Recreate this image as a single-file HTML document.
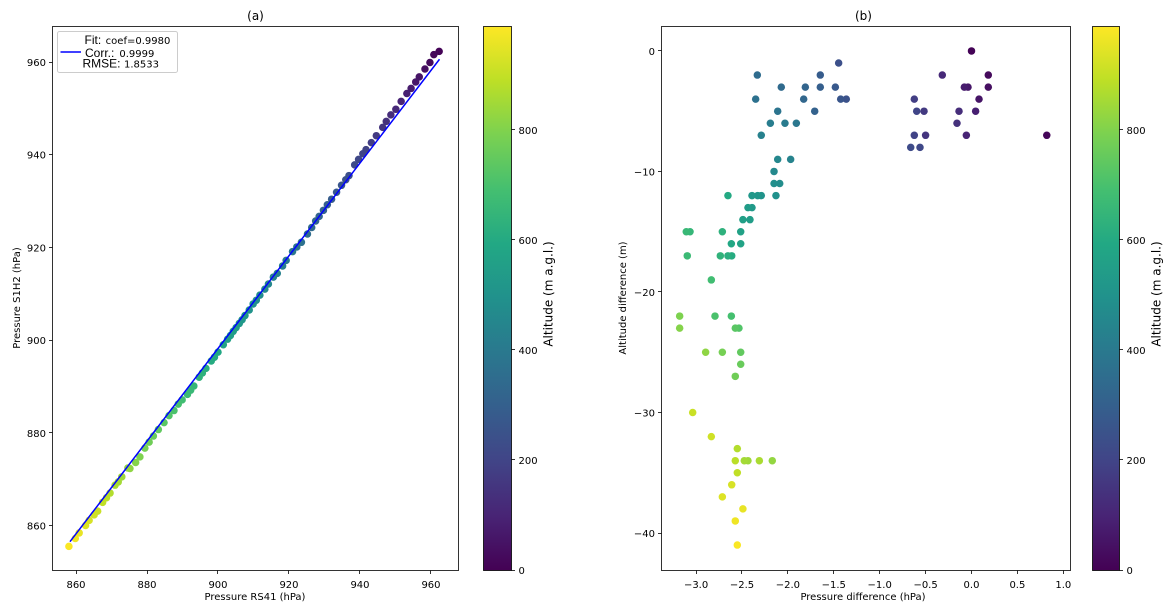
<!DOCTYPE html>
<html>
<head>
<meta charset="utf-8">
<title>Pressure and altitude comparison</title>
<style>
html,body{margin:0;padding:0;background:#fff;}
svg{display:block;}
text{font-family:"DejaVu Sans","Liberation Sans",sans-serif;fill:#000;}
</style>
</head>
<body>
<svg id="chart" xmlns="http://www.w3.org/2000/svg" width="1174" height="614" viewBox="0 0 1174 614">
  <defs>
    <linearGradient id="viridis" x1="0" y1="1" x2="0" y2="0"></linearGradient>
  </defs>
</svg>
<script>
// ---- data ----
const altitude = [5,15,25,40,55,62,75,86,100,115,128,140,150,167,180,194,203,214,225,240,248,260,273,286,297,308,319,328,339,350,366,378,390,407,416,430,441,454,463,477,486,495,505,516,524,531,540,548,555,563,574,588,598,606,620,630,638,652,661,669,683,694,705,718,732,747,760,771,783,796,807,822,828,844,853,862,875,885,895,908,918,931,940,957,968,985];
const pressureRS41 = [962.3,960.8,959.7,958.3,956.7,955.7,954.4,953.2,951.6,950.1,948.7,947.4,946.4,944.6,943.2,941.7,940.8,939.6,938.5,936.9,936.0,934.8,933.4,932.0,930.8,929.7,928.5,927.5,926.4,925.2,923.5,922.2,921.0,919.2,918.2,916.7,915.6,914.2,913.2,911.8,910.8,909.9,908.8,907.6,906.8,906.0,905.1,904.3,903.5,902.7,901.5,900.0,899.0,898.1,896.6,895.6,894.7,893.2,892.3,891.4,889.9,888.8,887.6,886.2,884.8,883.2,881.8,880.6,879.4,878.0,876.8,875.2,874.6,872.9,871.9,871.0,869.6,868.6,867.5,866.1,865.1,863.7,862.7,860.9,859.8,858.0];
const pressureS1H2 = [962.3,961.6,959.9,958.5,956.8,955.7,954.3,953.2,951.5,949.8,948.6,947.2,945.9,944.1,942.6,941.1,940.2,939.0,937.8,935.5,934.6,933.4,931.9,930.4,929.2,928.0,926.7,925.7,924.3,922.9,921.1,920.1,919.1,917.2,916.0,914.4,913.6,912.1,911.0,909.7,908.6,907.8,906.5,905.3,904.4,903.6,902.7,901.9,901.0,900.2,899.0,897.4,896.3,895.5,893.9,892.9,892.0,890.1,889.2,888.3,887.1,886.2,884.8,883.7,882.2,880.7,879.3,878.0,876.7,874.8,873.6,872.3,872.4,870.5,869.4,868.7,867.0,866.0,865.0,863.1,862.3,861.1,860.0,858.4,857.2,855.5];
const pressureDiff = [0,0.82,0.183,0.183,0.082,-0.038,-0.078,0.045,-0.056,-0.318,-0.136,-0.158,-0.5,-0.517,-0.623,-0.623,-0.597,-0.561,-0.662,-1.447,-1.364,-1.425,-1.483,-1.647,-1.647,-1.708,-1.81,-1.828,-2.072,-2.333,-2.351,-2.111,-1.908,-2.032,-2.191,-2.29,-1.97,-2.111,-2.151,-2.089,-2.151,-2.13,-2.29,-2.329,-2.391,-2.391,-2.435,-2.413,-2.49,-2.514,-2.514,-2.616,-2.653,-2.612,-2.653,-2.714,-2.736,-3.066,-3.107,-3.096,-2.834,-2.616,-2.794,-2.533,-2.573,-2.514,-2.514,-2.573,-2.714,-3.179,-3.179,-2.896,-2.17,-2.435,-2.475,-2.311,-2.551,-2.573,-2.551,-3.037,-2.834,-2.612,-2.714,-2.49,-2.573,-2.551];
const altitudeDiff = [0,-7,-2,-3,-4,-3,-3,-5,-7,-2,-5,-6,-7,-5,-4,-7,-5,-8,-8,-1,-4,-4,-3,-2,-3,-5,-3,-4,-3,-2,-4,-5,-6,-6,-6,-7,-9,-9,-10,-11,-11,-12,-12,-12,-12,-13,-13,-14,-14,-15,-16,-16,-12,-17,-17,-15,-17,-15,-15,-17,-19,-22,-22,-23,-23,-25,-26,-27,-25,-22,-23,-25,-34,-34,-34,-34,-33,-34,-35,-30,-32,-36,-37,-38,-39,-41];
const fitX = [858.3,962.4];
const fitY = [856.5,960.6];
const xTicksA = [860,880,900,920,940,960];
const yTicksA = [860,880,900,920,940,960];
const xTicksB = [-3,-2.5,-2,-1.5,-1,-0.5,0,0.5,1];
const yTicksB = [0,-10,-20,-30,-40];
const colorbarTicks = [0,200,400,600,800];
const viridisStops = ["#440154","#482475","#414487","#355f8d","#2a788e","#21918c","#22a884","#44bf70","#7ad151","#bddf26","#fde725"];

// ---- scales ----
function linear(domain, range){
  return v => range[0] + (v - domain[0]) / (domain[1] - domain[0]) * (range[1] - range[0]);
}
const boxA = {l:52.5, r:458.5, t:26.5, b:570.5};
const boxB = {l:661.5, r:1070.5, t:26.5, b:570.5};
const xA = linear([853.52,967.75],[53,458.5]);
const yA = linear([850.4,967.77],[570,26]);
const xB = linear([-3.379,1.073],[661.3,1070]);
const yB = linear([-43.07,2.07],[570,26]);
const altMax = 989;
const yC = linear([0,altMax],[570,26]);

function hexRgb(h){return [parseInt(h.slice(1,3),16),parseInt(h.slice(3,5),16),parseInt(h.slice(5,7),16)];}
function viridis(v){
  const t = Math.max(0,Math.min(1,v/altMax))*(viridisStops.length-1);
  const i = Math.min(Math.floor(t),viridisStops.length-2);
  const a = hexRgb(viridisStops[i]), b = hexRgb(viridisStops[i+1]), f = t-i;
  return "rgb("+a.map((c,k)=>Math.round(c+(b[k]-c)*f)).join(",")+")";
}
function snap(v){return Math.floor(v)+0.5;}
const svg = document.getElementById('chart');
function el(tag, attrs, text){
  const e = document.createElementNS("http://www.w3.org/2000/svg", tag);
  for (const k in attrs) e.setAttribute(k, attrs[k]);
  if (text !== undefined) e.textContent = text;
  svg.appendChild(e);
  return e;
}
function fmt(v, d){
  return (v < 0 ? "\u2212" : "") + Math.abs(v).toFixed(d);
}
function axisFrame(box, name){
  const f = el('rect',{x:box.l,y:box.t,width:box.r-box.l,height:box.b-box.t,fill:'none',stroke:'#000','stroke-width':0.8});
  
  
}
function xTicks(ticks, scale, box, d, name){
  ticks.forEach(v=>{
    const x = scale(v);
    const t = el('line',{x1:snap(x),x2:snap(x),y1:box.b,y2:box.b+3.5,stroke:'#000','stroke-width':0.8});
    
    
    const l = el('text',{x:x,y:588,'font-size':10,'text-anchor':'middle'},fmt(v,d));
    
    
  });
}
function yTicks(ticks, scale, box, name){
  ticks.forEach(v=>{
    const y = scale(v);
    const t = el('line',{x1:box.l-3.5,x2:box.l,y1:snap(y),y2:snap(y),stroke:'#000','stroke-width':0.8});
    
    
    const l = el('text',{x:box.l-6.5,y:y+4,'font-size':10,'text-anchor':'end'},fmt(v,0));
    
    
  });
}
function colorbar(x0, x1, name){
  const r = el('rect',{x:x0,y:26.5,width:x1-x0,height:544,fill:'url(#viridis)',stroke:'#000','stroke-width':0.8});
  
  
  colorbarTicks.forEach(v=>{
    const y = yC(v);
    const t = el('line',{x1:x1,x2:x1+3.5,y1:snap(y),y2:snap(y),stroke:'#000','stroke-width':0.8});
    
    
    const l = el('text',{x:x1+7,y:y+4,'font-size':10},String(v));
    
    
  });
  const cx = x1+41;
  const c = el('text',{x:cx,y:294,'font-size':12,'text-anchor':'middle',transform:'rotate(-90 '+cx+' 294)'},'Altitude (m a.g.l.)');
  
  
}

// gradient
const grad = svg.querySelector('#viridis');
viridisStops.forEach((c,i)=>{
  const s = document.createElementNS("http://www.w3.org/2000/svg","stop");
  s.setAttribute('offset', (i/(viridisStops.length-1)*100)+'%');
  s.setAttribute('stop-color', c);
  grad.appendChild(s);
});

// background
const bg = el('rect',{x:0,y:0,width:1174,height:614,fill:'#fff'});



// panel a points
pressureRS41.forEach((v,i)=>{
  const p = el('circle',{cx:xA(v),cy:yA(pressureS1H2[i]),r:3.75,fill:viridis(altitude[i])});
  
  
});
// fit line
const fit = el('line',{x1:xA(fitX[0]),y1:yA(fitY[0]),x2:xA(fitX[1]),y2:yA(fitY[1]),stroke:'#0000ff','stroke-width':1.5});



axisFrame(boxA, 'panel-a-frame');
xTicks(xTicksA, xA, boxA, 0, 'panel-a-x-axis');
yTicks(yTicksA, yA, boxA, 'panel-a-y-axis');

const tA = el('text',{x:255.5,y:20,'font-size':12,'text-anchor':'middle'},'(a)');


const xlA = el('text',{x:255,y:600,'font-size':10,'text-anchor':'middle'},'Pressure RS41 (hPa)');


const ylA = el('text',{x:20,y:298,'font-size':10,'text-anchor':'middle',transform:'rotate(-90 20 298)'},'Pressure S1H2 (hPa)');



// legend
const lg = el('rect',{x:57.5,y:31.5,width:120,height:41,rx:2,ry:2,fill:'#fff','fill-opacity':0.8,stroke:'#ccc','stroke-width':1});


const ll = el('line',{x1:60.5,x2:81,y1:52,y2:52,stroke:'#0000ff','stroke-width':1.5});


function legendRow(x, y, head, tail, gap, name){
  const h = el('text',{x:x,y:y,'font-size':12,style:'font-family:"Liberation Sans",sans-serif'},head);
  
  
  const tl = el('text',{x:x+h.getComputedTextLength()+gap,y:y,'font-size':10},tail);
  
  
}
legendRow(84.5,44,'Fit:','coef=0.9980',4.5,'legend-fit');
legendRow(85,57,'Corr.:','0.9999',5,'legend-corr');
legendRow(82.5,67.5,'RMSE:','1.8533',3.5,'legend-rmse');

colorbar(483.5, 511.5, 'panel-a-colorbar');

// panel b points
pressureDiff.forEach((v,i)=>{
  const p = el('circle',{cx:xB(v),cy:yB(altitudeDiff[i]),r:3.75,fill:viridis(altitude[i])});
  
  
});
axisFrame(boxB, 'panel-b-frame');
xTicks(xTicksB, xB, boxB, 1, 'panel-b-x-axis');
yTicks(yTicksB, yB, boxB, 'panel-b-y-axis');

const tB = el('text',{x:863.5,y:20,'font-size':12,'text-anchor':'middle'},'(b)');


const xlB = el('text',{x:863,y:600,'font-size':10,'text-anchor':'middle'},'Pressure difference (hPa)');


const ylB = el('text',{x:626,y:298,'font-size':10,'text-anchor':'middle',transform:'rotate(-90 626 298)'},'Altitude difference (m)');



colorbar(1092.5, 1119.5, 'panel-b-colorbar');
</script>
</body>
</html>
